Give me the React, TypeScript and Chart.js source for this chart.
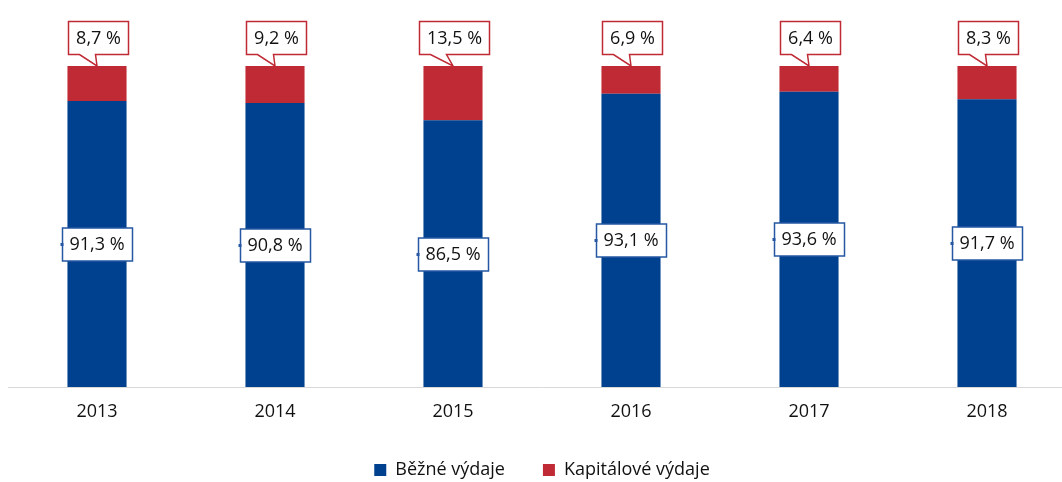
import React, { useEffect, useRef } from "react";
import { Chart, registerables } from "chart.js";

Chart.register(...registerables);

const years = ["2013", "2014", "2015", "2016", "2017", "2018"];
const bezne = [91.3, 90.8, 86.5, 93.1, 93.6, 91.7];
const kapitalove = [8.7, 9.2, 13.5, 6.9, 6.4, 8.3];
const seriesNames = ["Běžné výdaje", "Kapitálové výdaje"];
const yMin = 20;
const yMax = 100;

const BLUE = "#00418f";
const BLUE_BORDER = "#2557a3";
const RED = "#bf2a35";
const FONT = '"Open Sans", "Liberation Sans", sans-serif';

const fmt = (v: number) => v.toFixed(1).replace(".", ",") + " %";

const labelPlugin = {
  id: "calloutLabels",
  afterDatasetsDraw(chart: any) {
    const ctx = chart.ctx as CanvasRenderingContext2D;
    const area = chart.chartArea;
    ctx.save();
    ctx.font = `18px ${FONT}`;
    ctx.textAlign = "center";
    ctx.textBaseline = "middle";
    chart.data.datasets.forEach((ds: any, di: number) => {
      const meta = chart.getDatasetMeta(di);
      meta.data.forEach((bar: any, i: number) => {
        const v = ds.data[i] as number;
        const text = fmt(v);
        const tw = ctx.measureText(text).width;
        const bw = Math.round(tw + 15);
        const bh = 33;
        if (di === 0) {
          const base = Math.min(bar.base, area.bottom);
          const cy = Math.round((bar.y + base) / 2);
          const left = Math.round(bar.x - bw / 2) + 0.5;
          const top = cy - bh / 2 + 0.5;
          ctx.fillStyle = "#ffffff";
          ctx.fillRect(left, top, bw, bh);
          ctx.lineWidth = 1.5;
          ctx.strokeStyle = BLUE_BORDER;
          ctx.strokeRect(left, top, bw, bh);
          ctx.fillStyle = BLUE_BORDER;
          ctx.fillRect(left - 2, cy - 1, 3, 3);
          ctx.fillStyle = "#111111";
          ctx.fillText(text, bar.x, cy + 1);
        } else {
          const tipX = bar.x;
          const tipY = bar.y;
          const bottom = Math.round(tipY - 12) + 0.5;
          const top = bottom - bh;
          const left = Math.round(bar.x - bw / 2 + 1) + 0.5;
          const right = left + bw;
          ctx.beginPath();
          ctx.moveTo(left, top);
          ctx.lineTo(right, top);
          ctx.lineTo(right, bottom);
          ctx.lineTo(left + 27, bottom);
          ctx.lineTo(tipX, tipY);
          ctx.lineTo(left + 11, bottom);
          ctx.lineTo(left, bottom);
          ctx.closePath();
          ctx.fillStyle = "#ffffff";
          ctx.fill();
          ctx.lineWidth = 1.5;
          ctx.strokeStyle = RED;
          ctx.stroke();
          ctx.fillStyle = "#111111";
          ctx.fillText(text, (left + right) / 2, (top + bottom) / 2 + 1);
        }
      });
    });
    ctx.restore();
  },
};

export default function App() {
  const ref = useRef<HTMLCanvasElement | null>(null);

  useEffect(() => {
    if (!ref.current) return;
    const chart = new Chart(ref.current, {
      type: "bar",
      data: {
        labels: years,
        datasets: [
          {
            label: seriesNames[0],
            data: bezne,
            backgroundColor: BLUE,
            barPercentage: 1,
            categoryPercentage: 0.332,
          },
          {
            label: seriesNames[1],
            data: kapitalove,
            backgroundColor: RED,
            barPercentage: 1,
            categoryPercentage: 0.332,
          },
        ],
      },
      options: {
        responsive: false,
        animation: false,
        layout: { padding: { top: 58, left: 0, right: 0, bottom: 0 } },
        scales: {
          x: {
            stacked: true,
            grid: { display: false, drawTicks: false },
            border: { display: true, color: "#d9d9d9", width: 1 },
            ticks: {
              color: "#111111",
              font: { family: FONT, size: 18 },
              padding: 14,
            },
            afterFit: (s: any) => {
              s.height = 36;
            },
          },
          y: { stacked: true, display: false, min: yMin, max: yMax },
        },
        plugins: {
          legend: {
            position: "bottom",
            labels: {
              boxWidth: 12,
              boxHeight: 12,
              padding: 38,
              color: "#111111",
              font: { family: FONT, size: 18 },
            },
          },
          tooltip: { enabled: false },
        },
      },
      plugins: [labelPlugin],
    } as any);
    return () => chart.destroy();
  }, []);

  return (
    <div
      style={{
        position: "absolute",
        left: 8,
        top: 8,
        width: 1054,
        height: 474,
        overflow: "hidden",
      }}
    >
      <canvas ref={ref} width={1068} height={481} style={{ display: "block" }} />
    </div>
  );
}
